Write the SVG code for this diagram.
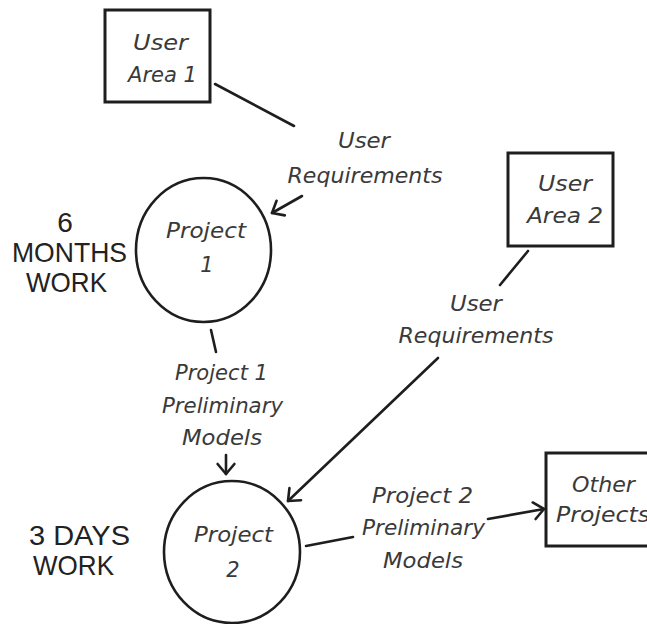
<svg xmlns="http://www.w3.org/2000/svg" width="647" height="624" viewBox="0 0 647 624">
  <style>
    .bg { fill: #ffffff; }
    .box { fill: none; stroke: #1e1e1e; stroke-width: 3; }
    .proc { fill: none; stroke: #1e1e1e; stroke-width: 2.6; }
    .flow { fill: none; stroke: #1e1e1e; stroke-width: 2.6; stroke-linecap: round; }
    .hand { font-family: "DejaVu Sans", "Liberation Sans", sans-serif; font-style: oblique; font-weight: 200; font-size: 21px; fill: #3a3a3a; text-anchor: middle; }
    .note { font-family: "Liberation Sans", "DejaVu Sans", sans-serif; font-size: 28px; fill: #222222; text-anchor: middle; }
  </style>
  <defs>
    <marker id="arrow" viewBox="0 0 20 20" refX="15" refY="10" markerWidth="20" markerHeight="20" markerUnits="userSpaceOnUse" orient="auto" overflow="visible">
      <path d="M5,1.6 L15,10 L5,18.4" fill="none" stroke="#1e1e1e" stroke-width="2.6" stroke-linecap="round" stroke-linejoin="round"/>
    </marker>
  </defs>

  <rect class="bg" x="0" y="0" width="647" height="624"/>

  <!-- data flows -->
  <g id="connectors">
    <line class="flow" x1="215" y1="84" x2="294" y2="126"/>
    <line class="flow" x1="302" y1="196" x2="272" y2="213" marker-end="url(#arrow)"/>
    <line class="flow" x1="528" y1="251" x2="500" y2="285"/>
    <line class="flow" x1="438" y1="358" x2="288" y2="501" marker-end="url(#arrow)"/>
    <line class="flow" x1="211" y1="330" x2="216" y2="352"/>
    <line class="flow" x1="226" y1="455" x2="226" y2="474" marker-end="url(#arrow)"/>
    <line class="flow" x1="306" y1="546" x2="353" y2="537"/>
    <line class="flow" x1="488" y1="519" x2="544" y2="509" marker-end="url(#arrow)"/>

    <g id="flow-labels">
      <text class="hand" x="364" y="148" textLength="52" lengthAdjust="spacingAndGlyphs">User</text>
      <text class="hand" x="365" y="183" textLength="155" lengthAdjust="spacingAndGlyphs">Requirements</text>
      <text class="hand" x="476" y="311" textLength="52" lengthAdjust="spacingAndGlyphs">User</text>
      <text class="hand" x="476" y="343" textLength="155" lengthAdjust="spacingAndGlyphs">Requirements</text>
      <text class="hand" x="221.5" y="380" textLength="93" lengthAdjust="spacingAndGlyphs">Project 1</text>
      <text class="hand" x="222.5" y="413" textLength="121" lengthAdjust="spacingAndGlyphs">Preliminary</text>
      <text class="hand" x="222" y="445" textLength="80" lengthAdjust="spacingAndGlyphs">Models</text>
      <text class="hand" x="422.5" y="503" textLength="101" lengthAdjust="spacingAndGlyphs">Project 2</text>
      <text class="hand" x="423.5" y="535" textLength="123" lengthAdjust="spacingAndGlyphs">Preliminary</text>
      <text class="hand" x="423" y="568" textLength="80" lengthAdjust="spacingAndGlyphs">Models</text>
    </g>
  </g>

  <!-- external entities -->
  <g id="user-area-1">
    <rect class="box" x="105" y="10" width="105" height="92"/>
    <text class="hand" x="160.5" y="50" textLength="55" lengthAdjust="spacingAndGlyphs">User</text>
    <text class="hand" x="162.5" y="82" textLength="69" lengthAdjust="spacingAndGlyphs">Area 1</text>
  </g>

  <g id="user-area-2">
    <rect class="box" x="508" y="153" width="105" height="93"/>
    <text class="hand" x="565" y="191" textLength="54" lengthAdjust="spacingAndGlyphs">User</text>
    <text class="hand" x="565" y="223" textLength="76" lengthAdjust="spacingAndGlyphs">Area 2</text>
  </g>

  <g id="other-projects">
    <rect class="box" x="546" y="453" width="120" height="93"/>
    <text class="hand" x="603.5" y="492" textLength="63" lengthAdjust="spacingAndGlyphs">Other</text>
    <text class="hand" x="603" y="522" textLength="94" lengthAdjust="spacingAndGlyphs">Projects</text>
  </g>

  <!-- processes -->
  <g id="project-1">
    <ellipse class="proc" cx="203.5" cy="250" rx="67.5" ry="72"/>
    <text class="hand" x="206" y="238" textLength="80" lengthAdjust="spacingAndGlyphs">Project</text>
    <text class="hand" x="207" y="272">1</text>
  </g>

  <g id="project-2">
    <ellipse class="proc" cx="232" cy="552" rx="68" ry="71"/>
    <text class="hand" x="233.5" y="542" textLength="79" lengthAdjust="spacingAndGlyphs">Project</text>
    <text class="hand" x="233" y="577">2</text>
  </g>

  <!-- effort notes -->
  <g id="note-6-months">
    <text class="note" x="65" y="232">6</text>
    <text class="note" x="69.5" y="262" textLength="115" lengthAdjust="spacingAndGlyphs">MONTHS</text>
    <text class="note" x="66.5" y="292" textLength="81" lengthAdjust="spacingAndGlyphs">WORK</text>
  </g>

  <g id="note-3-days">
    <text class="note" x="79.5" y="545" textLength="101" lengthAdjust="spacingAndGlyphs">3 DAYS</text>
    <text class="note" x="73.5" y="575" textLength="81" lengthAdjust="spacingAndGlyphs">WORK</text>
  </g>
</svg>
